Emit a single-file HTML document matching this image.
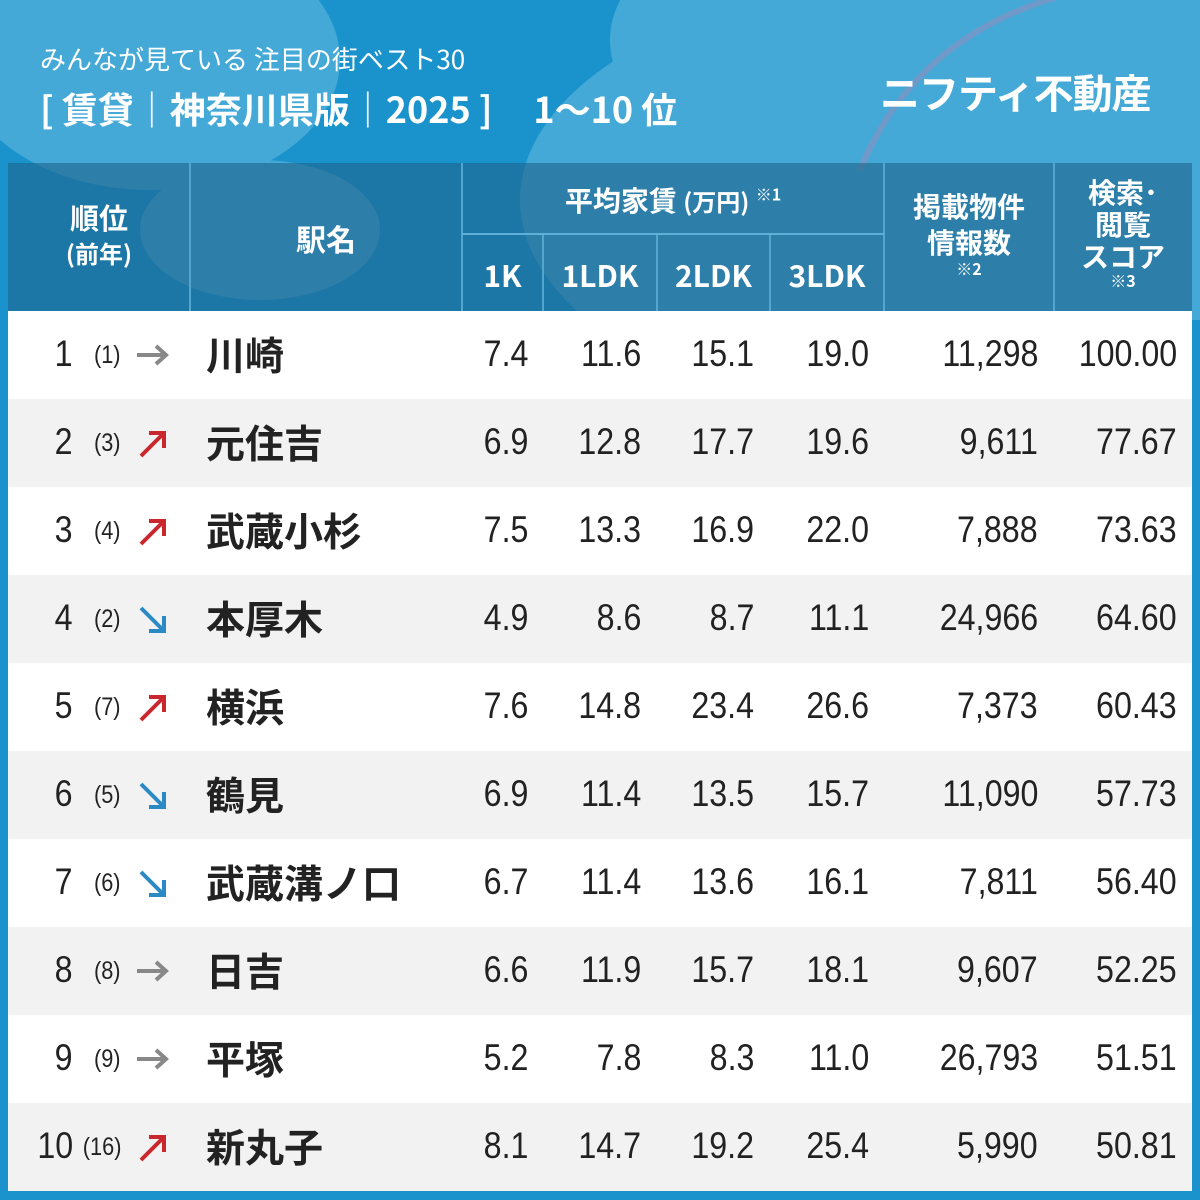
<!DOCTYPE html>
<html><head><meta charset="utf-8"><style>
*{margin:0;padding:0;box-sizing:border-box}
body{width:1200px;height:1200px;position:relative;overflow:hidden;background:#1a93cc;font-family:"Liberation Sans","Noto Sans CJK JP",sans-serif}
.abs{position:absolute}
.n{position:absolute;font-size:37px;color:#222;transform:scaleX(0.87);transform-origin:right center;white-space:nowrap;text-align:right}
.hd{position:absolute;color:#fff;font-weight:bold;text-align:center;font-family:"Noto Sans CJK JP",sans-serif}
.vl{position:absolute;top:163px;width:2px;background:#5fb0d8;opacity:.8}
</style></head><body>
<svg class="abs" style="left:0;top:0" width="1200" height="320">
<rect width="1200" height="320" fill="#1a93cc"/>
<ellipse cx="150" cy="60" rx="190" ry="130" fill="#45a9d7"/>
<ellipse cx="760" cy="40" rx="150" ry="110" fill="#45a9d7"/>
<ellipse cx="980" cy="200" rx="460" ry="230" fill="#45a9d7"/>
<ellipse cx="260" cy="230" rx="120" ry="70" fill="#45a9d7"/>
<path d="M860 170 Q930 0 1150 -20" stroke="#8a8fc0" stroke-width="6" fill="none" opacity=".6"/>
</svg>
<div class="abs" style="left:40px;top:40px;color:#fff;font-size:26px;font-family:'Noto Sans CJK JP',sans-serif">みんなが見ている 注目の街ベスト30</div>
<div class="abs" style="left:40px;top:82px;color:#fff;font-size:36px;font-weight:bold;font-family:'Noto Sans CJK JP',sans-serif;white-space:nowrap">[ 賃貸｜神奈川県版｜2025 ]&nbsp;&nbsp;&nbsp;&nbsp;&nbsp;1〜10 位</div>
<div class="abs" style="left:880px;top:62px;color:#fff;font-size:40px;font-weight:bold;font-family:'Noto Sans CJK JP',sans-serif;white-space:nowrap;letter-spacing:-1px">ニフティ不動産</div>
<div class="abs" style="left:8px;top:163px;width:1184px;height:148px;background:rgba(30,100,140,.6)"></div>
<div class="abs" style="left:462px;top:233px;width:422px;height:2px;background:#5fb0d8"></div>
<div class="vl" style="left:189px;height:148px"></div>
<div class="vl" style="left:461px;height:148px"></div>
<div class="vl" style="left:542px;top:235px;height:76px"></div>
<div class="vl" style="left:656px;top:235px;height:76px"></div>
<div class="vl" style="left:769px;top:235px;height:76px"></div>
<div class="vl" style="left:883px;height:148px"></div>
<div class="vl" style="left:1053px;height:148px"></div>
<div class="hd" style="left:8px;width:182px;top:200px;font-size:29px;line-height:34px">順位<br><span style="font-size:24px">(前年)</span></div>
<div class="hd" style="left:190px;width:272px;top:216px;font-size:30px">駅名</div>
<div class="hd" style="left:462px;width:422px;top:180px;font-size:28px">平均家賃 <span style="font-size:24px">(万円)</span> <sup style="font-size:16px">※1</sup></div>
<div class="hd" style="left:462px;width:81px;top:252px;font-size:30px">1K</div>
<div class="hd" style="left:543px;width:114px;top:252px;font-size:30px">1LDK</div>
<div class="hd" style="left:657px;width:113px;top:252px;font-size:30px">2LDK</div>
<div class="hd" style="left:770px;width:114px;top:252px;font-size:30px">3LDK</div>
<div class="hd" style="left:884px;width:170px;top:188px;font-size:28px;line-height:36px">掲載物件<br>情報数<br><span style="font-size:16px;line-height:16px;display:block">※2</span></div>
<div class="hd" style="left:1054px;width:138px;top:176px;font-size:28px;line-height:32px">検索･<br>閲覧<br>スコア<br><span style="font-size:16px;line-height:16px;display:block">※3</span></div>
<div id="rows"></div>
<script>
const d=[[1,1,'→','川崎','7.4','11.6','15.1','19.0','11,298','100.00'],[2,3,'↗','元住吉','6.9','12.8','17.7','19.6','9,611','77.67'],[3,4,'↗','武蔵小杉','7.5','13.3','16.9','22.0','7,888','73.63'],[4,2,'↘','本厚木','4.9','8.6','8.7','11.1','24,966','64.60'],[5,7,'↗','横浜','7.6','14.8','23.4','26.6','7,373','60.43'],[6,5,'↘','鶴見','6.9','11.4','13.5','15.7','11,090','57.73'],[7,6,'↘','武蔵溝ノ口','6.7','11.4','13.6','16.1','7,811','56.40'],[8,8,'→','日吉','6.6','11.9','15.7','18.1','9,607','52.25'],[9,9,'→','平塚','5.2','7.8','8.3','11.0','26,793','51.51'],[10,16,'↗','新丸子','8.1','14.7','19.2','25.4','5,990','50.81']];
const col={'→':'#888','↗':'#c8282d','↘':'#2b8ac4'};
const ar={'→':'<path d="M2 17H30M21 8L31 17L21 26" />','↗':'<path d="M6 30L28 8M14 7H29V22" />','↘':'<path d="M6 6L28 28M14 29H29V14" />'};
const R=[528,641,754,869,1038,1177];
let h='';
d.forEach((r,i)=>{const y=311+i*88;
h+=`<div class="abs" style="left:8px;top:${y}px;width:1184px;height:88px;background:${i%2?'#f2f2f2':'#fff'}"></div>`;
const c=y+44-22;
h+=`<div class="n" style="right:${1200-73}px;top:${c}px">${r[0]}</div>`;
h+=`<div class="n" style="right:${1200-121}px;top:${c+8}px;font-size:25px">(${r[1]})</div>`;
h+=`<svg class="abs" style="left:135px;top:${y+27}px" width="36" height="34"><g stroke="${col[r[2]]}" stroke-width="4" fill="none">${ar[r[2]]}</g></svg>`;
h+=`<div class="abs" style="left:206px;top:${c-7}px;font-size:39px;font-weight:bold;color:#222;font-family:'Noto Sans CJK JP',sans-serif">${r[3]}</div>`;
for(let k=0;k<6;k++)h+=`<div class="n" style="right:${1200-R[k]}px;top:${c}px">${r[4+k]}</div>`;
});
document.getElementById('rows').innerHTML=h;
</script>
</body></html>
